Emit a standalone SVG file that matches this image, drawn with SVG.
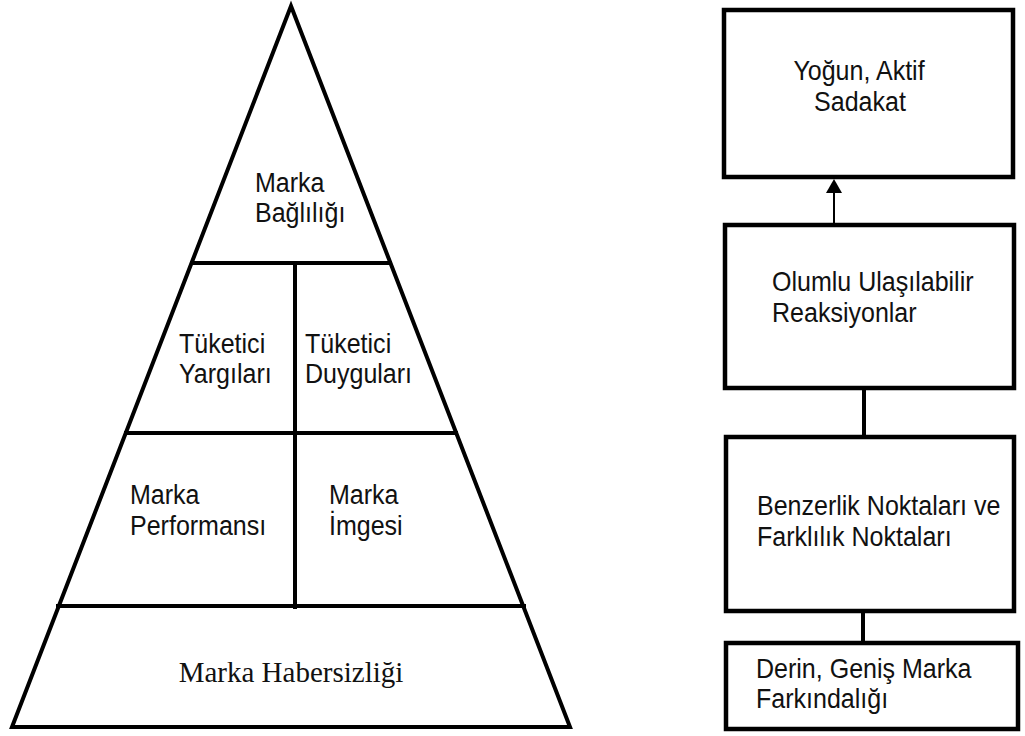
<svg xmlns="http://www.w3.org/2000/svg" width="1025" height="736" viewBox="0 0 1025 736">
  <style>
    .ln { stroke: #000; stroke-width: 4; fill: none; stroke-linecap: square; stroke-linejoin: miter; }
    .box { stroke: #000; stroke-width: 4.5; fill: #fff; }
    .lbl { font-family: "Liberation Sans", Arial, sans-serif; font-size: 27.5px; fill: #111; }
    .ser { font-family: "Liberation Serif", "Times New Roman", serif; font-size: 29px; fill: #111; }
  </style>
  <rect width="1025" height="736" fill="#fff"/>

  <!-- Brand pyramid -->
  <g id="pyramid">
    <polygon class="ln" points="291,6 570,727 12,727"/>
    <line class="ln" x1="192" y1="263" x2="390" y2="263"/>
    <line class="ln" x1="126" y1="433" x2="456" y2="433"/>
    <line class="ln" x1="58" y1="606" x2="524" y2="606"/>
    <line class="ln" x1="295" y1="263" x2="295" y2="607"/>
  </g>
  <g id="node-baglilik">
    <text class="lbl" transform="translate(255 192) scale(0.91 1)">Marka</text>
    <text class="lbl" transform="translate(255 222) scale(0.91 1)">Bağlılığı</text>
  </g>
  <g id="node-yargilar">
    <text class="lbl" transform="translate(179 353) scale(0.91 1)">Tüketici</text>
    <text class="lbl" transform="translate(179 383) scale(0.91 1)">Yargıları</text>
  </g>
  <g id="node-duygular">
    <text class="lbl" transform="translate(305 353) scale(0.91 1)">Tüketici</text>
    <text class="lbl" transform="translate(305 383) scale(0.91 1)">Duyguları</text>
  </g>
  <g id="node-performans">
    <text class="lbl" transform="translate(130 504) scale(0.91 1)">Marka</text>
    <text class="lbl" transform="translate(130 535) scale(0.91 1)">Performansı</text>
  </g>
  <g id="node-imge">
    <text class="lbl" transform="translate(329 504) scale(0.91 1)">Marka</text>
    <text class="lbl" transform="translate(329 535) scale(0.91 1)">İmgesi</text>
  </g>
  <g id="node-habersizlik">
    <text class="ser" x="291" y="682" text-anchor="middle">Marka Habersizliği</text>
  </g>

  <!-- Stages column -->
  <g id="node-sadakat">
    <rect class="box" x="724" y="10" width="289" height="167" stroke-width="5.5"/>
    <text class="lbl" text-anchor="middle" transform="translate(859 80) scale(0.91 1)">Yoğun, Aktif</text>
    <text class="lbl" text-anchor="middle" transform="translate(860 111) scale(0.91 1)">Sadakat</text>
  </g>
  <g id="node-reaksiyon">
    <rect class="box" x="725" y="225" width="289" height="163"/>
    <text class="lbl" transform="translate(772 291) scale(0.91 1)">Olumlu Ulaşılabilir</text>
    <text class="lbl" transform="translate(772 322) scale(0.91 1)">Reaksiyonlar</text>
  </g>
  <g id="node-noktalar">
    <rect class="box" x="726" y="437" width="288" height="174"/>
    <text class="lbl" transform="translate(757 515) scale(0.91 1)">Benzerlik Noktaları ve</text>
    <text class="lbl" transform="translate(757 546) scale(0.91 1)">Farklılık Noktaları</text>
  </g>
  <g id="node-farkindalik">
    <rect class="box" x="726" y="643" width="292" height="86"/>
    <text class="lbl" transform="translate(756 678) scale(0.91 1)">Derin, Geniş Marka</text>
    <text class="lbl" transform="translate(756 708) scale(0.91 1)">Farkındalığı</text>
  </g>

  <g id="connectors">
    <line x1="834" y1="223" x2="834" y2="192" stroke="#000" stroke-width="2"/>
    <polygon points="834,179 826,193 842,193" fill="#000"/>
    <line x1="864" y1="390" x2="864" y2="435" stroke="#000" stroke-width="4"/>
    <line x1="863" y1="613" x2="863" y2="641" stroke="#000" stroke-width="4"/>
  </g>
</svg>
